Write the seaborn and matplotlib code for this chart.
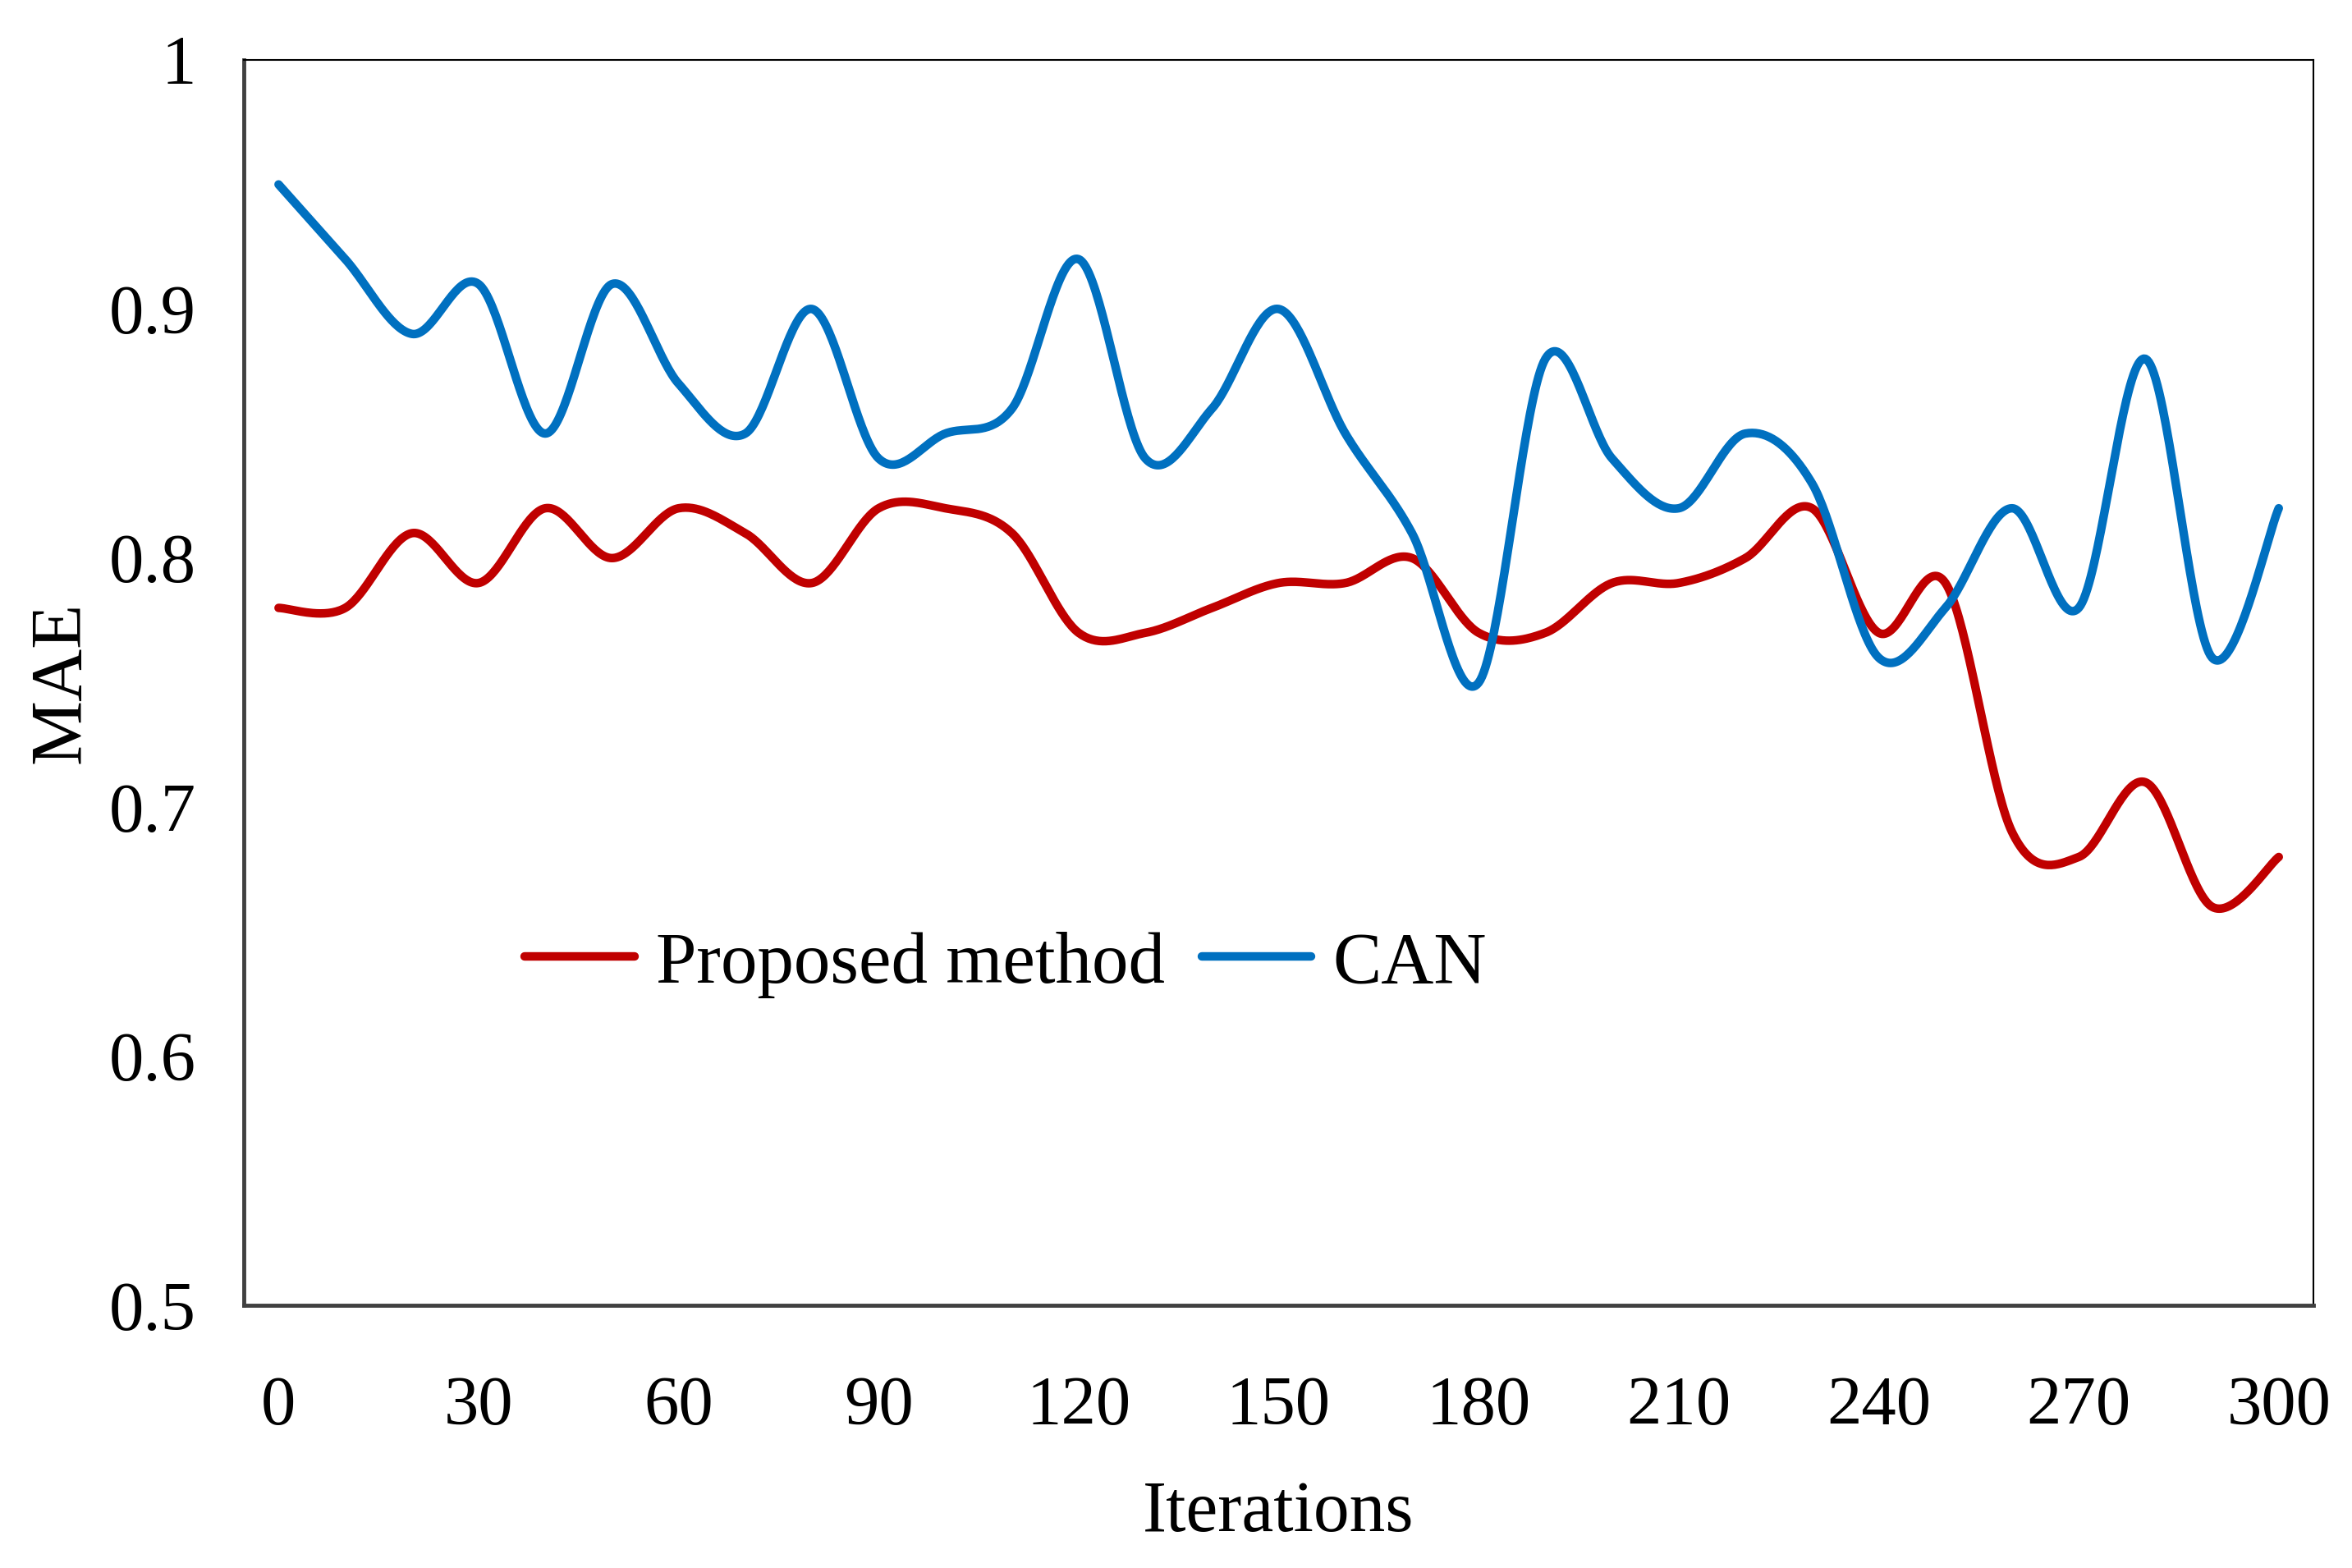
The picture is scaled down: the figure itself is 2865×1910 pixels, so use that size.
import numpy as np
import pandas as pd
import matplotlib
matplotlib.use("Agg")
import matplotlib.pyplot as plt
import seaborn as sns
from matplotlib.lines import Line2D

iterations = list(range(0, 301, 10))
proposed = [0.78, 0.78, 0.81, 0.79, 0.82, 0.80, 0.82, 0.81, 0.79, 0.82,
            0.82, 0.81, 0.77, 0.77, 0.78, 0.79, 0.79, 0.80, 0.77, 0.77,
            0.79, 0.79, 0.80, 0.82, 0.77, 0.79, 0.69, 0.68, 0.71, 0.66, 0.68]
can = [0.95, 0.92, 0.89, 0.91, 0.85, 0.91, 0.87, 0.85, 0.90, 0.84,
       0.85, 0.86, 0.92, 0.84, 0.86, 0.90, 0.85, 0.81, 0.75, 0.88,
       0.84, 0.82, 0.85, 0.83, 0.76, 0.78, 0.82, 0.78, 0.88, 0.76, 0.82]
series_names = ["Proposed method", "CAN"]
colors = ["#C00000", "#0070C0"]
xticks = list(range(0, 301, 30))
yticks = [0.5, 0.6, 0.7, 0.8, 0.9, 1.0]
ytick_labels = ["0.5", "0.6", "0.7", "0.8", "0.9", "1"]


def smooth(xs, ys, n=40):
    # Excel-style smoothed line: cubic Bezier through each point
    P = np.column_stack([xs, ys]).astype(float)
    Pext = np.vstack([P[0], P, P[-1]])
    t = np.linspace(0, 1, n)[:, None]
    out = []
    for i in range(len(P) - 1):
        p0, p1, p2, p3 = Pext[i], Pext[i + 1], Pext[i + 2], Pext[i + 3]
        c1 = p1 + (p2 - p0) / 6.0
        c2 = p2 - (p3 - p1) / 6.0
        seg = ((1 - t) ** 3) * p1 + 3 * ((1 - t) ** 2) * t * c1 + 3 * (1 - t) * t ** 2 * c2 + t ** 3 * p2
        out.append(seg if i == 0 else seg[1:])
    out = np.vstack(out)
    return out[:, 0], out[:, 1]


frames = []
for name, vals in zip(series_names, [proposed, can]):
    sx, sy = smooth(iterations, vals)
    frames.append(pd.DataFrame({"x": sx, "y": sy, "series": name}))
df = pd.concat(frames, ignore_index=True)

sns.set_theme(style="white")
plt.rcParams["font.family"] = ["Liberation Serif", "DejaVu Serif"]
for key in ["text.color", "axes.labelcolor", "xtick.color", "ytick.color"]:
    plt.rcParams[key] = "black"

fig = plt.figure(figsize=(28.65, 19.10), dpi=100)
ax = fig.add_axes([0.1037, 0.1675, 0.8799, 0.7943])

sns.lineplot(data=df, x="x", y="y", hue="series", palette=colors,
             hue_order=series_names, sort=False, estimator=None, units="series",
             linewidth=7.5, ax=ax, legend=False)

ax.set_xlim(-5.2, 305.2)
ax.set_ylim(0.5, 1.0)
ax.set_xticks(xticks)
ax.set_xticklabels([str(v) for v in xticks], fontsize=61)
ax.set_yticks(yticks)
ax.set_yticklabels(ytick_labels, fontsize=61)
ax.tick_params(axis="x", length=0, pad=62)
ax.tick_params(axis="y", length=0, pad=42)
ax.set_xlabel("Iterations", fontsize=63, labelpad=36)
ax.set_ylabel("MAE", fontsize=64, labelpad=12)
ax.grid(False)

for side in ["top", "right"]:
    ax.spines[side].set_color("black")
    ax.spines[side].set_linewidth(1.5)
for side in ["left", "bottom"]:
    ax.spines[side].set_color("#404040")
    ax.spines[side].set_linewidth(3.5)

handles = [Line2D([], [], color=c, linewidth=7.5) for c in colors]
ax.legend(handles, series_names, loc="center left", bbox_to_anchor=(0.1357, 0.2736),
          ncol=2, frameon=False, fontsize=64, handlelength=1.5, handletextpad=0.3,
          columnspacing=0.5, borderpad=0, borderaxespad=0)

fig.savefig("out.png", dpi=100, facecolor="white")
